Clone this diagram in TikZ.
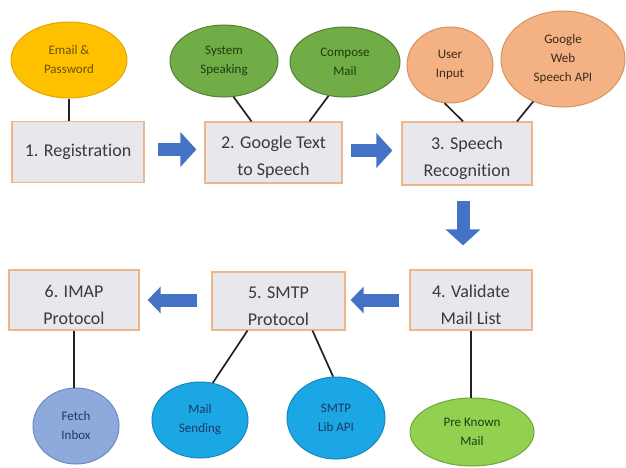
\documentclass[tikz,border=0pt]{standalone}
\usepackage{fontspec}
\setmainfont[Ligatures=NoCommon]{Carlito}
\usetikzlibrary{shapes.geometric,arrows.meta}
\definecolor{boxfill}{HTML}{E8E8EC}
\definecolor{boxline}{HTML}{EDB58A}
\definecolor{boxtext}{HTML}{3A3A3A}
\definecolor{arrowblue}{HTML}{4472C4}
\definecolor{gold}{HTML}{FFC000}
\definecolor{goldline}{HTML}{E0A800}
\definecolor{goldtext}{HTML}{6B5200}
\definecolor{green1}{HTML}{70AD47}
\definecolor{green1line}{HTML}{548235}
\definecolor{greentext}{HTML}{1E3D0F}
\definecolor{peach}{HTML}{F4B183}
\definecolor{peachline}{HTML}{D9925E}
\definecolor{peachtext}{HTML}{3B2A1A}
\definecolor{sky}{HTML}{1AA7E4}
\definecolor{skyline}{HTML}{1487BD}
\definecolor{navytext}{HTML}{1F3864}
\definecolor{peri}{HTML}{8EA9DB}
\definecolor{periline}{HTML}{6F8AC0}
\definecolor{lime}{HTML}{92D050}
\definecolor{limeline}{HTML}{70A83A}
\definecolor{linkcol}{HTML}{222222}
\newcommand{\downstrut}{\rule{0pt}{22pt}}
\tikzset{
  stepbox/.style={rectangle, draw=boxline, fill=boxfill, line width=1.2pt,
    text=boxtext, align=center, inner sep=0pt,
    font=\fontsize{18}{27}\selectfont},
  bubble/.style={ellipse, line width=1pt, inner sep=0pt, align=center,
    font=\fontsize{13}{19}\selectfont},
  link/.style={draw=linkcol, line width=1.7pt},
  blockarrow/.style={draw=arrowblue, line width=13pt,
    -{Triangle[length=16pt,width=34pt]}},
  blockarrowsmall/.style={draw=arrowblue, line width=13pt,
    -{Triangle[length=13pt,width=26pt]}}
}
\begin{document}
\begin{tikzpicture}[x=1pt,y=-1pt]
\useasboundingbox[fill=white] (0,0) rectangle (626,467);

% step boxes
\node[stepbox, minimum width=132pt, minimum height=61pt] (b1) at (78,152) {1. Registration};
\node[stepbox, minimum width=137pt, minimum height=61pt] (b2) at (273.5,152.5) {\downstrut 2. Google Text\\to Speech};
\node[stepbox, minimum width=130pt, minimum height=63pt] (b3) at (467,153.5) {\downstrut 3. Speech\\Recognition};
\node[stepbox, minimum width=122pt, minimum height=60pt] (b4) at (471,300) {\downstrut 4. Validate\\Mail List};
\node[stepbox, minimum width=133pt, minimum height=58pt] (b5) at (278.5,301) {\downstrut 5. SMTP\\Protocol};
\node[stepbox, minimum width=130pt, minimum height=60pt] (b6) at (74,300) {\downstrut 6. IMAP\\Protocol};

% bubbles
\node[bubble, fill=gold, draw=goldline, text=goldtext, minimum width=116pt, minimum height=76pt] (e1) at (69,60) {Email \&\\Password};
\node[bubble, fill=green1, draw=green1line, text=greentext, minimum width=108pt, minimum height=72pt] (e2) at (224,61) {System\\Speaking};
\node[bubble, fill=green1, draw=green1line, text=greentext, minimum width=110pt, minimum height=70pt] (e3) at (345,62) {Compose\\Mail};
\node[bubble, fill=peach, draw=peachline, text=peachtext, minimum width=86pt, minimum height=76pt] (e4) at (450,65) {User\\Input};
\node[bubble, fill=peach, draw=peachline, text=peachtext, minimum width=124pt, minimum height=96pt] (e5) at (563,59) {Google\\Web\\Speech API};
\node[bubble, fill=peri, draw=periline, text=navytext, minimum width=86pt, minimum height=76pt] (e6) at (76,426) {Fetch\\Inbox};
\node[bubble, fill=sky, draw=skyline, text=navytext, minimum width=96pt, minimum height=76pt] (e7) at (200,420) {Mail\\Sending};
\node[bubble, fill=sky, draw=skyline, text=navytext, minimum width=98pt, minimum height=82pt] (e8) at (336,418) {SMTP\\Lib API};
\node[bubble, fill=lime, draw=limeline, text=greentext, minimum width=124pt, minimum height=68pt] (e9) at (472,432) {Pre Known\\Mail};

% links
\draw[link] (e1.south) -- (e1.south |- b1.north);
\draw[link] (e2.-75) -- ([xshift=-22pt]b2.north);
\draw[link] (e3.-116) -- ([xshift=36pt]b2.north);
\draw[link] (e4.-98) -- ([xshift=-4pt]b3.north);
\draw[link] (e5.-125) -- ([xshift=50pt]b3.north);
\draw[link] (b6.south) -- (b6.south |- e6.north);
\draw[link] (e7.71) -- ([xshift=-31pt]b5.south);
\draw[link] (e8.94) -- ([xshift=34pt]b5.south);
\draw[link] (b4.south) -- (b4.south |- e9.north);

% block arrows
\coordinate (a1s) at ([xshift=13pt,yshift=2.5pt]b1.east);
\coordinate (a1e) at ([xshift=-8pt]b2.west |- a1s);
\draw[blockarrow] (a1s) -- (a1e);
\coordinate (a2s) at ([xshift=8pt,yshift=2pt]b2.east);
\coordinate (a2e) at ([xshift=-9pt]b3.west |- a2s);
\draw[blockarrow] (a2s) -- (a2e);
\coordinate (a3s) at ([xshift=-4pt,yshift=-15pt]b3.south);
\coordinate (a3e) at ([yshift=24pt]b4.north -| a3s);
\draw[blockarrow] (a3s) -- (a3e);
\coordinate (a4s) at ([xshift=-10pt]b4.west);
\coordinate (a4e) at ([xshift=5pt]b5.east |- a4s);
\draw[blockarrowsmall] (a4s) -- (a4e);
\coordinate (a5s) at ([xshift=-14pt]b5.west |- a4s);
\coordinate (a5e) at ([xshift=8pt]b6.east |- a4s);
\draw[blockarrowsmall] (a5s) -- (a5e);
\end{tikzpicture}
\end{document}
